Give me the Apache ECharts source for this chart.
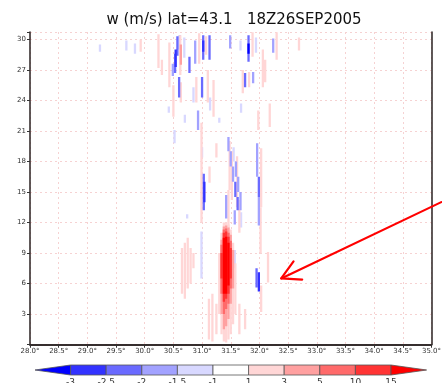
<!DOCTYPE html>
<html>
<head>
<meta charset="utf-8">
<script src="https://cdn.jsdelivr.net/npm/echarts@6/dist/echarts.min.js"></script>
<style>
  html, body { margin: 0; padding: 0; background: #fff; }
  #main { width: 442px; height: 383px; }
</style>
</head>
<body>
<div id="main"></div>
<script>
// w (m/s) along lat=43.1, 18Z26SEP2005 : runs of constant shading level
// each run = [lon, z bottom, z top, w]
var downdraftRuns = [
  [29.22, 28.8, 29.5, -1.2], [29.68, 28.9, 29.9, -1.2], [29.83, 28.6, 29.6, -1.2],
  [30.57, 28.4, 30.3, -2.2], [30.53, 26.7, 28.6, -2.2], [30.54, 27.3, 29.0, -2.7],
  [30.49, 26.4, 27.6, -1.7], [30.61, 29.0, 30.4, -1.7], [30.69, 28.2, 30.2, -1.5],
  [30.78, 26.7, 28.3, -2.2], [30.88, 27.6, 29.9, -1.7], [31.02, 28.0, 30.4, -2.2],
  [31.02, 28.8, 29.9, -2.7], [31.13, 28.0, 30.4, -2.2], [31.49, 29.1, 30.4, -2.0],
  [31.67, 28.9, 29.9, -1.3], [31.81, 27.8, 30.4, -2.2], [31.81, 28.6, 29.6, -3.3],
  [31.94, 28.7, 30.2, -1.5], [32.24, 28.7, 30.1, -2.0], [31.75, 25.3, 26.7, -2.2],
  [31.89, 25.7, 26.8, -2.0], [30.60, 24.3, 26.3, -2.2], [31.00, 24.3, 26.3, -2.2],
  [30.85, 23.8, 25.3, -1.5], [30.42, 22.8, 23.4, -1.3], [30.70, 21.8, 22.6, -1.3],
  [30.93, 21.1, 23.0, -1.7], [31.14, 23.0, 24.3, -1.3], [31.30, 21.8, 22.3, -1.3],
  [31.68, 22.8, 23.7, -1.3], [30.52, 19.8, 21.1, -1.3], [31.00, 18.4, 19.4, -1.3],
  [31.46, 19.0, 20.4, -1.7], [31.50, 17.5, 19.0, -1.7], [31.54, 16.0, 17.5, -2.0],
  [31.58, 14.5, 16.0, -2.2], [31.62, 13.2, 14.5, -2.2],
  [31.55, 18.0, 19.4, -1.5], [31.59, 16.5, 18.0, -1.7], [31.63, 15.0, 16.5, -1.7],
  [31.67, 13.2, 15.0, -2.0],
  [31.03, 13.2, 16.8, -2.2], [31.04, 14.0, 16.0, -2.7],
  [31.96, 16.5, 19.8, -1.7], [31.99, 14.5, 16.5, -2.2], [31.99, 11.7, 14.5, -2.0],
  [31.42, 12.4, 14.7, -2.0], [31.57, 11.8, 13.2, -1.7], [31.68, 11.5, 13.0, -1.5],
  [30.74, 12.4, 12.8, -1.3], [30.99, 6.5, 11.1, -1.5], [31.95, 5.6, 7.5, -2.2],
  [31.99, 5.2, 7.1, -2.7], [31.57, 7.5, 9.3, -1.3]
];

var updraftRuns = [
  [29.93, 28.8, 30.0, 1.5], [30.24, 27.2, 30.5, 1.5], [30.43, 25.3, 29.7, 1.5],
  [30.62, 26.5, 30.4, 2.0], [30.63, 27.5, 29.5, 4.0], [30.95, 27.6, 30.6, 1.5],
  [31.07, 28.5, 30.3, 2.0], [31.88, 28.3, 30.7, 1.5], [32.06, 25.3, 29.0, 1.5],
  [32.10, 25.8, 28.0, 2.0], [32.30, 28.0, 30.7, 2.0], [32.69, 28.9, 30.2, 1.5],
  [31.71, 24.7, 27.0, 1.5], [31.82, 25.3, 26.8, 1.5], [30.30, 26.5, 28.0, 1.5],
  [30.63, 23.8, 25.8, 1.5], [30.90, 23.8, 26.3, 1.5], [31.10, 23.8, 27.0, 1.5],
  [30.50, 22.4, 25.5, 1.5], [31.20, 22.4, 26.0, 1.5], [32.18, 21.4, 23.7, 2.0],
  [31.98, 21.1, 23.0, 1.5], [30.99, 12.0, 21.8, 1.5], [31.25, 18.4, 19.8, 1.5],
  [31.48, 15.2, 20.0, 1.5], [31.52, 14.2, 19.0, 1.5], [31.61, 13.5, 18.5, 1.5],
  [31.13, 15.9, 17.5, 1.5], [32.03, 13.5, 19.3, 1.5], [31.46, 10.0, 15.2, 1.5],
  [31.65, 11.0, 14.2, 1.5], [32.02, 9.0, 13.5, 1.5], [30.65, 5.0, 9.5, 1.5],
  [30.70, 4.5, 10.0, 1.5], [30.75, 5.5, 10.5, 1.5], [30.80, 6.0, 9.5, 1.5],
  [30.85, 7.5, 9.0, 1.5], [31.12, 0.5, 4.5, 1.5], [31.18, 0.3, 5.0, 1.5],
  [31.25, 1.0, 4.0, 1.5], [32.15, 6.1, 9.1, 2.0], [32.03, 3.2, 5.8, 1.5],
  [31.65, 1.0, 4.0, 1.5], [31.75, 1.5, 3.5, 1.5]
];

// the strong updraft core near 31.4E
var coreRuns = [
  [31.30, 3.0, 9.0, 1.5], [31.34, 1.0, 11.0, 1.5], [31.38, 0.3, 12.0, 1.5],
  [31.42, 0.2, 12.0, 1.5], [31.46, 0.5, 11.8, 1.5], [31.50, 1.0, 11.3, 1.5],
  [31.54, 2.0, 10.0, 1.5], [31.58, 3.0, 8.0, 1.5],
  [31.34, 3.0, 10.3, 4], [31.38, 1.5, 11.6, 4], [31.42, 1.8, 11.7, 4],
  [31.46, 2.5, 11.5, 4], [31.50, 4.0, 10.8, 4], [31.54, 5.5, 9.3, 4],
  [31.34, 5.0, 9.8, 7], [31.38, 3.0, 11.3, 7], [31.42, 3.5, 11.4, 7],
  [31.46, 4.0, 11.0, 7], [31.50, 5.5, 10.2, 7],
  [31.34, 6.5, 9.0, 12], [31.38, 4.2, 11.0, 12], [31.42, 4.5, 11.1, 12],
  [31.46, 5.0, 10.6, 12], [31.50, 6.5, 9.5, 12],
  [31.38, 5.0, 10.5, 18], [31.42, 5.0, 10.6, 18], [31.46, 5.8, 10.0, 18]
];

var cbarLevels = ['-3', '-2.5', '-2', '-1.5', '-1', '1', '3', '5', '10', '15'];
var cbarBounds = [-3, -2.5, -2, -1.5, -1, 1, 3, 5, 10, 15];
var cbarColors = ['#0000ff', '#3232ff', '#6a6aff', '#a2a2ff', '#d8d8ff', '#ffffff',
                  '#ffd6d6', '#ffa0a0', '#ff6a6a', '#ff3434', '#ff0000'];

// annotation arrow: tail and tip in (lon, z)
var arrowTail = [35.17, 14.0];
var arrowTip = [32.38, 6.5];

var DLON = 0.04;

var runs = downdraftRuns.concat(updraftRuns, coreRuns);
runs.sort(function (a, b) { return Math.abs(a[3]) - Math.abs(b[3]); });

var pieces = [];
for (var i = 0; i <= cbarBounds.length; i++) {
  var p = { color: cbarColors[i] };
  if (i > 0) p.gte = cbarBounds[i - 1];
  if (i < cbarBounds.length) p.lt = cbarBounds[i];
  pieces.push(p);
}

var myChart = echarts.init(document.getElementById('main'));

var gridLine = { show: true, lineStyle: { color: '#f6d2d2', type: [2, 3], width: 1 } };
var frame = { show: true, lineStyle: { color: '#2a2222', width: 1.5 } };
var lab = { color: '#333', fontSize: 7, fontFamily: 'DejaVu Sans' };

option = {
  animation: false,
  backgroundColor: '#fff',
  title: {
    text: 'w (m/s) lat=43.1   18Z26SEP2005',
    left: 229, top: 8, textAlign: 'center',
    textStyle: { fontSize: 15, fontWeight: 'normal', color: '#111', fontFamily: 'DejaVu Sans' }
  },
  grid: [
    { left: 30, top: 32, width: 401.5, height: 312.5, outerBoundsMode: 'none', containLabel: false },
    { left: 35, top: 365, width: 391.6, height: 10, outerBoundsMode: 'none', containLabel: false }
  ],
  visualMap: {
    type: 'piecewise', show: false, seriesIndex: 0, dimension: 3, pieces: pieces
  },
  xAxis: [
    {
      type: 'value', gridIndex: 0, min: 28, max: 35, interval: 0.5, position: 'bottom',
      axisLine: frame, axisTick: { show: true, length: 3, lineStyle: { color: '#333' } },
      splitLine: gridLine,
      axisLabel: Object.assign({ margin: 3, formatter: function (v) { return v.toFixed(1) + '°'; } }, lab)
    },
    {
      type: 'value', gridIndex: 0, min: 28, max: 35, interval: 0.5, position: 'top',
      axisLine: frame, axisTick: { show: true, inside: true, length: 3, lineStyle: { color: '#333' } },
      splitLine: { show: false }, axisLabel: { show: false }
    },
    {
      type: 'value', gridIndex: 1, min: 0, max: 11, interval: 1,
      axisLine: { show: false }, axisTick: { show: false }, splitLine: { show: false },
      axisLabel: {
        margin: 3, fontSize: 9, color: '#333', fontFamily: 'DejaVu Sans',
        formatter: function (v) { return (v >= 1 && v <= 10) ? cbarLevels[v - 1] : ''; }
      }
    }
  ],
  yAxis: [
    {
      type: 'value', gridIndex: 0, min: 0, max: 30.73, interval: 3,
      axisLine: frame, axisTick: { show: true, length: 3, lineStyle: { color: '#333' } },
      splitLine: gridLine,
      axisLabel: Object.assign({ margin: 4, formatter: function (v) {
        return (v > 0 && Math.abs(v % 3) < 1e-6) ? String(v) : '';
      } }, lab)
    },
    {
      type: 'value', gridIndex: 0, min: 0, max: 30.73, interval: 3, position: 'right',
      axisLine: frame, axisTick: { show: false }, splitLine: { show: false }, axisLabel: { show: false }
    },
    { type: 'value', gridIndex: 1, min: 0, max: 1, show: false }
  ],
  series: [
    {
      name: 'w',
      type: 'custom',
      xAxisIndex: 0, yAxisIndex: 0,
      clip: true,
      data: runs,
      renderItem: function (params, api) {
        var lon = api.value(0);
        var a = api.coord([lon - DLON / 2, api.value(2)]);
        var b = api.coord([lon + DLON / 2, api.value(1)]);
        return {
          type: 'rect',
          shape: { x: a[0], y: a[1], width: b[0] - a[0], height: b[1] - a[1] },
          style: { fill: api.visual('color') }
        };
      }
    },
    {
      name: 'colorbar',
      type: 'custom',
      xAxisIndex: 2, yAxisIndex: 2,
      data: cbarColors.map(function (c, i) { return [i]; }),
      renderItem: function (params, api) {
        var i = api.value(0);
        var p0 = api.coord([i, 1]);
        var p1 = api.coord([i + 1, 0]);
        var mid = (p0[1] + p1[1]) / 2;
        var style = { fill: cbarColors[i], stroke: '#555', lineWidth: 0.8 };
        if (i === 0) {
          return { type: 'polygon', shape: { points: [[p0[0], mid], [p1[0], p0[1]], [p1[0], p1[1]]] }, style: style };
        }
        if (i === cbarColors.length - 1) {
          return { type: 'polygon', shape: { points: [[p0[0], p0[1]], [p1[0], mid], [p0[0], p1[1]]] }, style: style };
        }
        return { type: 'rect', shape: { x: p0[0], y: p0[1], width: p1[0] - p0[0], height: p1[1] - p0[1] }, style: style };
      }
    },
    {
      name: 'arrow',
      type: 'custom',
      xAxisIndex: 0, yAxisIndex: 0,
      clip: false,
      z: 10,
      data: [[arrowTail[0], arrowTail[1], arrowTip[0], arrowTip[1]]],
      renderItem: function (params, api) {
        var t = api.coord([api.value(0), api.value(1)]);
        var h = api.coord([api.value(2), api.value(3)]);
        var ang = Math.atan2(t[1] - h[1], t[0] - h[0]);
        var L = 21, da = 0.5;
        var b1 = [h[0] + L * Math.cos(ang - da), h[1] + L * Math.sin(ang - da)];
        var b2 = [h[0] + L * Math.cos(ang + da), h[1] + L * Math.sin(ang + da)];
        var st = { stroke: '#ff0000', lineWidth: 2.2, fill: null, lineCap: 'round', lineJoin: 'round' };
        return {
          type: 'group',
          children: [
            { type: 'line', shape: { x1: t[0], y1: t[1], x2: h[0], y2: h[1] }, style: st },
            { type: 'polyline', shape: { points: [b1, h, b2] }, style: st }
          ]
        };
      }
    }
  ]
};

myChart.setOption(option);
</script>
</body>
</html>
